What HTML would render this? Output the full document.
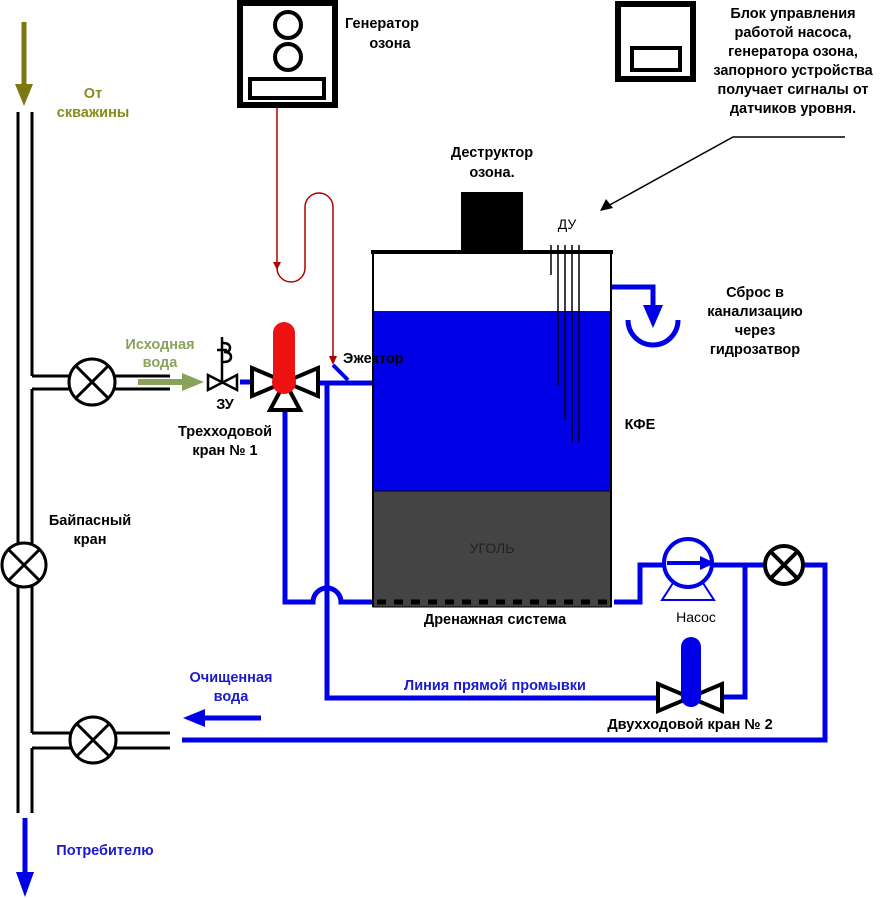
<!DOCTYPE html>
<html><head><meta charset="utf-8"><style>
html,body{margin:0;padding:0;background:#fff;}
svg{display:block;font-family:"Liberation Sans",sans-serif;}
.b{font-weight:bold;font-size:14.5px;}
</style></head><body>
<svg width="888" height="898" viewBox="0 0 888 898" xmlns="http://www.w3.org/2000/svg">
<g stroke="#000" stroke-width="3" fill="none">
<line x1="18" y1="112" x2="18" y2="813"/>
<line x1="32" y1="112" x2="32" y2="376"/>
<line x1="32" y1="376" x2="70" y2="376"/>
<line x1="32" y1="389" x2="70" y2="389"/>
<line x1="32" y1="389" x2="32" y2="733"/>
<line x1="114" y1="376" x2="170" y2="376"/>
<line x1="114" y1="389" x2="170" y2="389"/>
<line x1="32" y1="733" x2="70" y2="733"/>
<line x1="32" y1="748" x2="70" y2="748"/>
<line x1="32" y1="748" x2="32" y2="813"/>
<line x1="114" y1="733" x2="170" y2="733"/>
<line x1="114" y1="748" x2="170" y2="748"/>
</g>
<g stroke="#000" stroke-width="3" fill="#fff">
<circle cx="92" cy="382" r="23"/><path d="M76 366 L108 398 M108 366 L76 398"/>
<circle cx="24" cy="565" r="22"/><path d="M9 550 L39 580 M39 550 L9 580"/>
<circle cx="93" cy="740" r="23"/><path d="M77 724 L109 756 M109 724 L77 756"/>
</g>
<line x1="24" y1="22" x2="24" y2="88" stroke="#7b7a12" stroke-width="5"/>
<polygon points="15,84 33,84 24,106" fill="#7b7a12"/>
<text x="93" y="98" class="b" fill="#8a8a1a" text-anchor="middle">От</text>
<text x="93" y="117" class="b" fill="#8a8a1a" text-anchor="middle">скважины</text>
<line x1="138" y1="382" x2="185" y2="382" stroke="#8aa35a" stroke-width="6"/>
<polygon points="182,373 204,382 182,391" fill="#8aa35a"/>
<text x="160" y="349" class="b" fill="#8aa35a" text-anchor="middle">Исходная</text>
<text x="160" y="367" class="b" fill="#8aa35a" text-anchor="middle">вода</text>
<g stroke="#000" stroke-width="2.5" fill="#fff">
<path d="M208 375 L208 390 L237 375 L237 390 Z"/>
<line x1="222" y1="382" x2="222" y2="337"/>
<line x1="217" y1="350" x2="227" y2="350"/>
<path d="M223 343 q7 0 7 5 q0 4 -6 4 q7 0 7 5 q0 5 -8 5" fill="none"/>
</g>
<text x="225" y="409" class="b" fill="#000" text-anchor="middle">ЗУ</text>
<line x1="240" y1="382" x2="252" y2="382" stroke="#0000e6" stroke-width="5"/>
<g stroke="#0000e6" stroke-width="5" fill="none">
<path d="M318 383 L372 383"/>
<path d="M327 383 L327 698 L658 698"/>
<path d="M285 410 L285 602 L313 602 A14 14 0 0 1 341 602 L372 602"/>
<path d="M614 602 L640 602 L640 565 L665 565"/>
<path d="M710 565 L765 565"/>
<path d="M745 565 L745 697 L722 697"/>
<path d="M803 565 L825 565 L825 740 L182 740"/>
<path d="M610 287 L653 287 L653 310"/>
<path d="M628 320 A25 25 0 0 0 678 320"/>
<line x1="197" y1="718" x2="261" y2="718"/>
<line x1="25" y1="818" x2="25" y2="878"/>
</g>
<polygon points="643,305 663,305 653,328" fill="#0000e6"/>
<polygon points="205,709 183,718 205,727" fill="#0000e6"/>
<polygon points="16,872 34,872 25,897" fill="#0000e6"/>
<path d="M333 365 L348 380" stroke="#0000e6" stroke-width="4"/>
<g stroke="#b00000" stroke-width="1.5" fill="none">
<path d="M277 108 L277 268 A14 14 0 0 0 305 268 L305 207 A14 14 0 0 1 333 207 L333 360"/>
</g>
<polygon points="273,262 281,262 277,270" fill="#b00000"/>
<polygon points="329,356 337,356 333,365" fill="#b00000"/>
<g stroke="#000" stroke-width="4" fill="#fff">
<path d="M252 368 L252 396 L318 368 L318 396 Z"/>
<path d="M285 382 L270 410 L300 410 Z"/>
</g>
<rect x="273" y="322" width="22" height="70" rx="11" fill="#ee1111"/>
<circle cx="284" cy="382" r="12" fill="#ee1111"/>
<text x="225" y="436" class="b" fill="#000" text-anchor="middle">Трехходовой</text>
<text x="225" y="455" class="b" fill="#000" text-anchor="middle">кран № 1</text>
<rect x="240" y="3" width="95" height="102" fill="#fff" stroke="#000" stroke-width="6"/>
<circle cx="288" cy="25" r="13" fill="none" stroke="#000" stroke-width="4"/>
<circle cx="288" cy="57" r="13" fill="none" stroke="#000" stroke-width="4"/>
<rect x="250" y="79" width="74" height="19" fill="none" stroke="#000" stroke-width="4"/>
<text x="382" y="28" class="b" fill="#000" text-anchor="middle">Генератор</text>
<text x="390" y="48" class="b" fill="#000" text-anchor="middle">озона</text>
<rect x="618" y="4" width="75" height="75" fill="#fff" stroke="#000" stroke-width="6"/>
<rect x="632" y="48" width="48" height="22" fill="none" stroke="#000" stroke-width="4"/>
<g class="b" fill="#000" text-anchor="middle">
<text x="793" y="18">Блок управления</text>
<text x="793" y="37">работой насоса,</text>
<text x="793" y="56">генератора озона,</text>
<text x="793" y="75">запорного устройства</text>
<text x="793" y="94">получает сигналы от</text>
<text x="793" y="113">датчиков уровня.</text>
</g>
<path d="M845 137 L733 137 L606 207" stroke="#000" stroke-width="1.5" fill="none"/>
<polygon points="600,211 606,199 613,208" fill="#000"/>
<rect x="373" y="311" width="238" height="180" fill="#0000e6"/>
<rect x="373" y="491" width="238" height="116" fill="#444" stroke="#000" stroke-width="1"/>
<path d="M373 252 L373 607 M611 252 L611 607" stroke="#000" stroke-width="2"/>
<line x1="371" y1="252" x2="613" y2="252" stroke="#000" stroke-width="4"/>
<rect x="461" y="192" width="62" height="60" fill="#000"/>
<g stroke="#000" stroke-width="1.5">
<line x1="551" y1="245" x2="551" y2="275"/>
<line x1="558" y1="245" x2="558" y2="385"/>
<line x1="565" y1="245" x2="565" y2="420"/>
<line x1="572" y1="245" x2="572" y2="442"/>
<line x1="579" y1="245" x2="579" y2="442"/>
</g>
<line x1="377" y1="602" x2="607" y2="602" stroke="#000" stroke-width="5" stroke-dasharray="9,8"/>
<text x="343" y="363" class="b" fill="#000">Эжектор</text>
<text x="567" y="229" font-size="14" fill="#000" text-anchor="middle">ДУ</text>
<text x="492" y="157" class="b" fill="#000" text-anchor="middle">Деструктор</text>
<text x="492" y="177" class="b" fill="#000" text-anchor="middle">озона.</text>
<text x="492" y="553" font-size="14" fill="#222" text-anchor="middle">УГОЛЬ</text>
<text x="640" y="429" class="b" fill="#000" text-anchor="middle">КФЕ</text>
<text x="495" y="624" class="b" fill="#000" text-anchor="middle">Дренажная система</text>
<g class="b" fill="#000" text-anchor="middle">
<text x="755" y="297">Сброс в</text>
<text x="755" y="316">канализацию</text>
<text x="755" y="335">через</text>
<text x="755" y="354">гидрозатвор</text>
</g>
<circle cx="688" cy="563" r="24" fill="#fff" stroke="#0000e6" stroke-width="4"/>
<line x1="667" y1="563" x2="705" y2="563" stroke="#0000e6" stroke-width="4"/>
<polygon points="700,556 715,563 700,570" fill="#0000e6"/>
<path d="M673 583 L662 600 L714 600 L703 583" fill="none" stroke="#0000e6" stroke-width="2"/>
<text x="696" y="622" font-size="14" fill="#000" text-anchor="middle">Насос</text>
<circle cx="784" cy="565" r="19" fill="#fff" stroke="#000" stroke-width="4"/>
<path d="M771 552 L797 578 M797 552 L771 578" stroke="#000" stroke-width="4"/>
<path d="M658 684 L658 711 L722 684 L722 711 Z" fill="#fff" stroke="#000" stroke-width="4"/>
<rect x="681" y="637" width="20" height="70" rx="10" fill="#0000e6"/>
<text x="690" y="729" class="b" fill="#000" text-anchor="middle">Двухходовой кран № 2</text>
<text x="495" y="690" class="b" fill="#1a1acc" text-anchor="middle">Линия прямой промывки</text>
<text x="231" y="682" class="b" fill="#1a1acc" text-anchor="middle">Очищенная</text>
<text x="231" y="701" class="b" fill="#1a1acc" text-anchor="middle">вода</text>
<text x="105" y="855" class="b" fill="#1a1acc" text-anchor="middle">Потребителю</text>
<text x="90" y="525" class="b" fill="#000" text-anchor="middle">Байпасный</text>
<text x="90" y="544" class="b" fill="#000" text-anchor="middle">кран</text>
</svg>
</body></html>
